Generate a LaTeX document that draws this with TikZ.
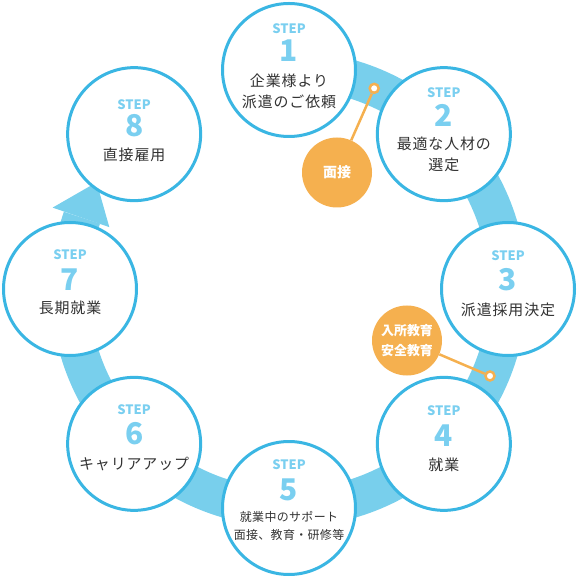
\documentclass[tikz,border=0pt]{standalone}
\usepackage{fontspec}
\setmainfont{Noto Sans CJK JP}
\usepackage{xcolor}
\usetikzlibrary{positioning}
\definecolor{bandblue}{HTML}{78CFEC}
\definecolor{lineblue}{HTML}{3AB6E3}
\definecolor{stepblue}{HTML}{7ACFF0}
\definecolor{textgray}{HTML}{333333}
\definecolor{flagorange}{HTML}{F5B04F}

\begin{document}
\begin{tikzpicture}[
  x=1bp, y=1bp,
  band/.style={draw=bandblue, line width=38bp},
  stepcircle/.style={circle, draw=lineblue, line width=3bp, fill=white,
                     minimum size=133bp, inner sep=0pt},
  steptag/.style={font=\bfseries\fontsize{13}{13}\selectfont, text=stepblue},
  stepnum/.style={font=\bfseries\fontsize{30}{30}\selectfont, text=stepblue},
  steptext/.style={font=\fontsize{15}{21}\selectfont\addfontfeatures{LetterSpace=6}, text=textgray, align=center},
  smalltext/.style={font=\fontsize{12}{19}\selectfont\addfontfeatures{LetterSpace=3}, text=textgray, align=center},
  flag/.style={circle, fill=flagorange, minimum size=70bp, inner sep=0pt,
               text=white, align=center, font=\bfseries\fontsize{13}{20}\selectfont},
  pin/.style={circle, draw=flagorange, line width=2.5bp, fill=white,
              minimum size=9bp, inner sep=0pt},
  pinline/.style={draw=flagorange, line width=2.5bp},
]
  \useasboundingbox (-289,-289) rectangle (289,289);

  % flow band with arrow head
  \draw[band] (90:219) arc[start angle=90, end angle=-199, radius=219];
  \fill[bandblue] (161:190) -- (161:250) -- (151:220) -- cycle;

  % step circles
  \node[stepcircle] (s1) at (90:219) {};
  \node[stepcircle] (s2) at (45:219) {};
  \node[stepcircle] (s3) at (0:219) {};
  \node[stepcircle] (s4) at (-45:219) {};
  \node[stepcircle] (s5) at (-90:219) {};
  \node[stepcircle] (s6) at (-135:219) {};
  \node[stepcircle] (s7) at (180:219) {};
  \node[stepcircle] (s8) at (135:219) {};

  \node[steptag] (tag1) at ([yshift=41]s1.center) {STEP};
  \node[stepnum] (num1) at ([yshift=19]s1.center) {1};
  \node[steptext] (txt1) at ([yshift=-21]s1.center) {企業様より\\派遣のご依頼};

  \node[steptag] (tag2) at ([yshift=42]s2.center) {STEP};
  \node[stepnum] (num2) at ([yshift=19]s2.center) {2};
  \node[steptext] (txt2) at ([yshift=-20]s2.center) {最適な人材の\\選定};

  \node[steptag] (tag3) at ([yshift=33]s3.center) {STEP};
  \node[stepnum] (num3) at ([yshift=9]s3.center) {3};
  \node[steptext] (txt3) at ([yshift=-21]s3.center) {派遣採用決定};

  \node[steptag] (tag4) at ([yshift=33]s4.center) {STEP};
  \node[stepnum] (num4) at ([yshift=8]s4.center) {4};
  \node[steptext] (txt4) at ([yshift=-21]s4.center) {就業};

  \node[steptag] (tag5) at ([yshift=43]s5.center) {STEP};
  \node[stepnum] (num5) at ([yshift=18]s5.center) {5};
  \node[smalltext] (txt5) at ([yshift=-18]s5.center) {就業中のサポート\\面接、教育・研修等};

  \node[steptag] (tag6) at ([yshift=34]s6.center) {STEP};
  \node[stepnum] (num6) at ([yshift=10]s6.center) {6};
  \node[steptext] (txt6) at ([yshift=-20]s6.center) {キャリアアップ};

  \node[steptag] (tag7) at ([yshift=34]s7.center) {STEP};
  \node[stepnum] (num7) at ([yshift=9]s7.center) {7};
  \node[steptext] (txt7) at ([yshift=-19]s7.center) {長期就業};

  \node[steptag] (tag8) at ([yshift=30]s8.center) {STEP};
  \node[stepnum] (num8) at ([yshift=9]s8.center) {8};
  \node[steptext] (txt8) at ([yshift=-21]s8.center) {直接雇用};

  % orange notes
  \node[flag, font=\bfseries\fontsize{14}{20}\selectfont] (interview) at (48,116.5) {面接};
  \node[pin] (pin1) at (67:218) {};
  \draw[pinline] (interview) -- (pin1);

  \node[flag] (training) at (118,-51.5) {入所教育\\安全教育};
  \node[pin] (pin2) at (-23.4:219) {};
  \draw[pinline] (training) -- (pin2);
\end{tikzpicture}
\end{document}
